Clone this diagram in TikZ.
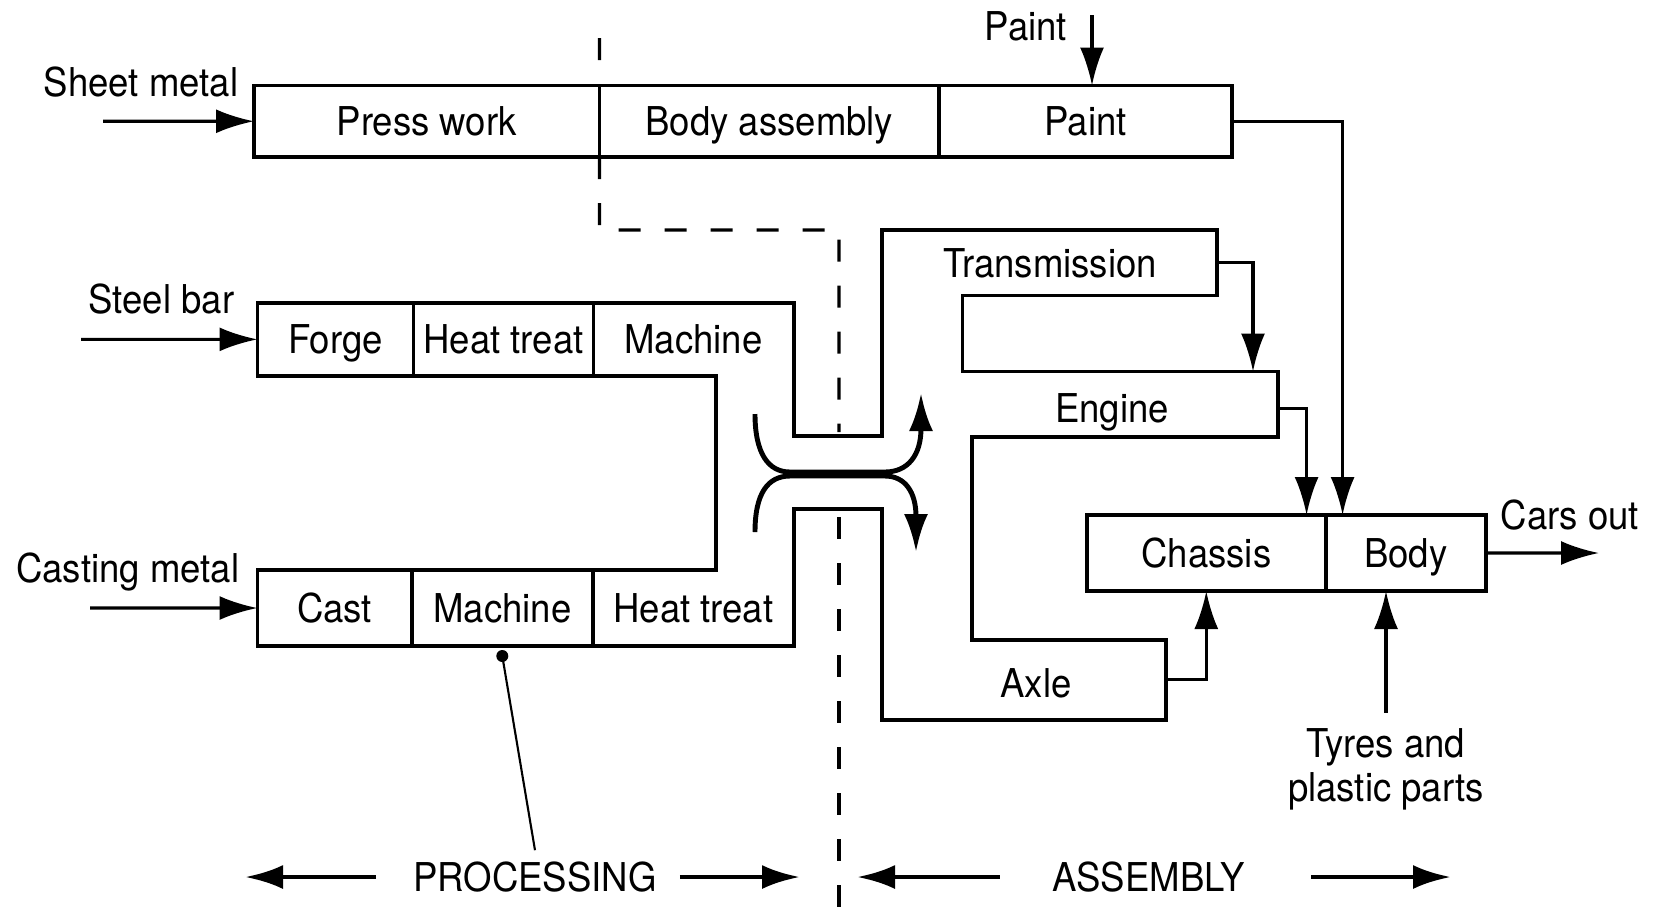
\documentclass[tikz,border=0pt]{standalone}
\usepackage{fontspec}
\setmainfont{TeX Gyre Heros}[FakeStretch=0.92]
\usetikzlibrary{positioning, arrows.meta}

\begin{document}
\begin{tikzpicture}[
	x=0.1mm, y=-0.1mm,
	txt/.style={text height=0.82em, text depth=0pt},
	cell/.style={rectangle, draw, txt, line width=1.1pt, inner sep=0pt, outer sep=0pt},
	part/.style={rectangle, txt, inner sep=0pt, outer sep=0pt},
	flow/.style={->, line width=0.9pt},
	wide/.style={->, line width=1.4pt},
	divide/.style={line width=0.9pt, dash pattern=on 2.2mm off 2.4mm},
	leader/.style={line width=0.6pt},
	every node/.style={font=\fontsize{11.3pt}{12.6pt}\selectfont},
	>={Latex[length=3.8mm, width=2.4mm]}
]

\useasboundingbox (0,0) rectangle (1655,916);

\node[cell, minimum width=34.55mm, minimum height=7.15mm, anchor=north west] (press) at (254,85.5) {Press work};
\node[cell, minimum width=33.95mm, minimum height=7.15mm, right=0pt of press] (bodyasm) {Body assembly};
\node[cell, minimum width=29.3mm, minimum height=7.15mm, right=0pt of bodyasm] (paint) {Paint};

\node[cell, minimum width=15.6mm, minimum height=7.27mm, anchor=north west] (forge) at (257.5,303) {Forge};
\node[cell, minimum width=18.0mm, minimum height=7.27mm, right=0pt of forge] (heatone) {Heat treat};
\node[part, minimum width=19.97mm, minimum height=7.27mm, right=0pt of heatone] (machone) {Machine};

\node[cell, minimum width=15.41mm, minimum height=7.6mm, anchor=north west] (cast) at (257.5,570) {Cast};
\node[cell, minimum width=18.14mm, minimum height=7.6mm, right=0pt of cast] (machtwo) {Machine};
\node[part, minimum width=20.07mm, minimum height=7.6mm, right=0pt of machtwo] (heattwo) {Heat treat};

\node[part, minimum width=33.4mm, minimum height=6.55mm, anchor=north east] (trans) at (1217,230) {Transmission};
\node[part, minimum width=33.2mm, minimum height=7.4mm, anchor=north east] (engine) at (1278,371.5) {Engine};
\node[part, minimum width=26mm, minimum height=8.6mm, anchor=north east] (axle) at (1166,639.6) {Axle};

\node[cell, minimum width=23.86mm, minimum height=7.6mm, anchor=north west] (chassis) at (1087,515) {Chassis};
\node[cell, minimum width=16.04mm, minimum height=7.6mm, right=0pt of chassis] (body) {Body};

% channel running from the processing lines into the sub-assemblies
\draw[line width=1.1pt] (257.5,303) -- (793.7,303) -- (793.7,436) -- (882.3,436) -- (882.3,230)
	-- (1217,230) -- (1217,295.5) -- (962.5,295.5) -- (962.5,371.5) -- (1278,371.5) -- (1278,437)
	-- (972,437) -- (972,639.6) -- (1166,639.6) -- (1166,719.8) -- (882.3,719.8) -- (882.3,508.7)
	-- (793.7,508.7) -- (793.7,646) -- (257.5,646) -- (257.5,570) -- (715.6,570) -- (715.6,375.7)
	-- (257.5,375.7) -- cycle;

\node[txt] (sheetlbl) at (141,82) {Sheet metal};
\node[txt] (steellbl) at (161.5,298.7) {Steel bar};
\node[txt] (castlbl) at (127.7,568) {Casting metal};
\node[txt] (paintlbl) at (1026,26) {Paint};
\node[txt] (carslbl) at (1570,515) {Cars out};
\node[align=center] (tyres) at (1386,769) {Tyres and\\plastic parts};

\coordinate (sheetin) at (103,121.25);
\coordinate (steelin) at (81,339.35);
\coordinate (castin) at (90,608);
\coordinate (paintin) at (1092,15);
\coordinate (carsout) at (1599,553);

\foreach \i/\j in {sheetin/press, steelin/forge, castin/cast}
	\draw[flow] (\i) -- (\j.west);

\draw[flow] (paintin) -- (paintin |- paint.north);
\draw[flow] (paint.east) -| ([xshift=1.7mm]body.north west);
\draw[flow] (trans.east) -| ([xshift=-2.5mm]engine.north east);
\draw[flow] (engine.east) -| ([xshift=-1.9mm]chassis.north east);
\draw[flow] ([yshift=0.3mm]axle.east) -| (chassis.south);
\draw[flow] ([yshift=0.3mm]tyres.north) -- (tyres.north |- body.south);
\draw[flow] (body.east) -- (carsout);

% crossing arrows between the two halves
\draw[wide] (755,414) .. controls (755,453) and (768,472) .. (790,472) -- (885,472) .. controls (908,472) and (921,455) .. (921,393);
\draw[wide] (755,532) .. controls (755,493) and (768,476) .. (790,476) -- (885,476) .. controls (905,476) and (916,492) .. (916,552);

\coordinate (dtop) at (599.5,38);
\draw[divide] (dtop) -- (press.north east);
\draw[divide] (press.south east) -- (599.5,230) -- (839,230) -- (839,432);
\draw[divide] (839,517) -- (839,912);

\node[txt] (proc) at (535,877) {PROCESSING};
\node[txt] (asm) at (1148.5,877) {ASSEMBLY};
\coordinate (procleft) at (245,877);
\coordinate (procright) at (800,877);
\coordinate (asmleft) at (857,877);
\coordinate (asmright) at (1451,877);

\draw[wide] ([xshift=-2.5mm]proc.west) -- (procleft);
\draw[wide] ([xshift=1.1mm]proc.east) -- (procright);
\draw[wide] ([xshift=-4.0mm]asm.west) -- (asmleft);
\draw[wide] ([xshift=5.4mm]asm.east) -- (asmright);

\draw[leader] (proc.north) -- ([yshift=-1mm]machtwo.south);
\fill ([yshift=-1mm]machtwo.south) circle (0.6mm);

\end{tikzpicture}
\end{document}
